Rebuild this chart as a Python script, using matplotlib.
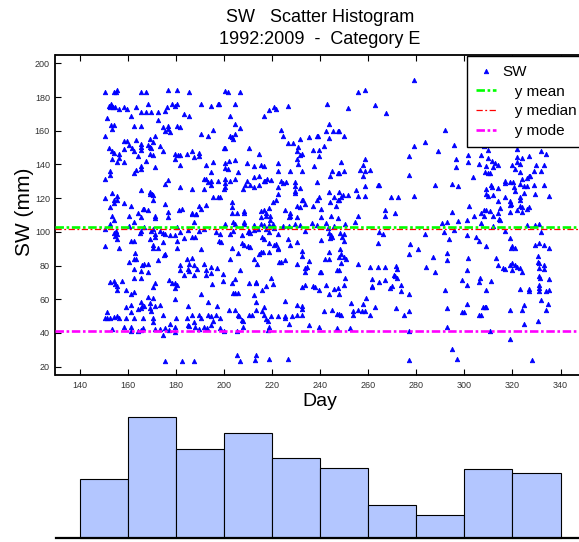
import matplotlib
matplotlib.use("Agg")
import matplotlib.pyplot as plt

plt.rcParams['font.family'] = ['Liberation Sans', 'DejaVu Sans']

# ---- data: (day, SW mm) observations, grouped by region of the plot ----
obs_early_high = [
    (150.4,183),(154.5,183),(155.1,183),(155.5,184),(165.5,183),(167.6,183),(176.6,184),(180.5,184),(185.5,183),
    (152.3,175),(153.1,176),(153.7,175),(152.7,174),(154.1,174),(154.8,174),(156.5,173),(158.6,174),(159.7,173),
    (163.4,174),(168.4,176),(178.4,176),(179.5,175),(180.5,176),(176.5,174),(175.5,172),(165.5,171),(167.6,171),
    (169.7,171),(172.6,171),(183.4,170),(185.5,169),(190.6,176),(194.7,175),(197.4,176),(161.3,169),(151.3,167.5),
    (172.6,166.5),(153.1,163.6),(154.4,163.2),(153.4,161.2),(162.5,162.8),(165.5,162.8),(174.5,162.4),(176.6,162.6),
    (176.8,161.2),(175.6,159.6),(177.6,159),(180.5,162.8),(181.6,162.4),(150.4,156.7),(190.5,158.3),(193.6,157.1),
    (195.5,160.4),
    (170.4,153.3),(169.5,155.3),(171.5,156.7),(158.4,154.1),(159.7,154.1),(163.4,154.7),(165.5,152.1),(165.5,150.2),
    (165.5,148.8),(168.4,151.7),(169.5,150.2),(169.8,149.8),(173.4,151.2),(160.6,151.4),(162,149.8),(162.6,148.2),
    (158.6,149.2),(152.3,149.8),(153.4,147.8),(154.5,146.8),(156.5,146.4),(164.5,145.2),(169.5,146.2),(170.5,145.4),
    (174.5,147.8),(179.7,146.2),(181,145.8),(181.9,145.4),(184.7,146.2),(186.8,147.8),(189.7,146.8),(189.5,144.8),
    (187.6,144.3),(179.5,143.5),(167.6,142.3),(153.4,143.5),(156.5,143.9),(158.6,141.5),(155.5,141.5),
    (181.6,139.9),(171.3,138.5),(165.5,138.9),(165.5,137.5),(163.4,136.6),(162.5,135),(152.7,136.4),(152.6,133.6),
    (150.4,131.4),(176.6,131),(175.6,128.5),(192.6,139.5),(195.5,141.5),(194.7,135.6),(191.6,131.4),(192.6,131.4),
    (193.6,129.5),(194.5,130),(194.7,127.7),(197.4,130.4),(191.6,125.5),(186.8,125.7),(181.6,126.7),(165.5,124.7),
    (169.5,123.5),(170.1,122.6),(169.5,122.2),(170.4,121.6),(170.5,119.2),(150.4,120.2),(153.4,122.8),(155.5,121.2),
    (154.5,118.8),(155.5,118.8),(154.5,117.2),(158.4,117.2),(161.3,115.3),(152.5,114.7),(166.2,113.3),(166.6,113.3),
    (168.3,112.9),(175.6,116.8),(176.6,111.9),(181.5,112.9),(182.6,113.3),(164.5,110.9),(189.7,115.3),(192.6,115.8),
    (195.5,120.8),(197.4,120.8),(190.6,113.3),(186.6,110.9),(188.4,110.7),
]
obs_early_low = [
    (153.4,109.3),(154.5,107),(160.4,109.7),(165.5,109),(171.3,109.7),(171.3,108),(176.6,109),(186.7,110.3),
    (188.6,110.3),(187.5,106),(162.5,105.8),(152.5,104.4),
    (150.4,101.9),(154.5,99.5),(155.1,100.5),(155.5,98.9),(160.4,103.4),(165.2,99.5),(165.5,100.5),(166.6,103),
    (169.7,100.5),(170.4,101.9),(171.3,98.5),(173.3,100.5),(174.6,99.5),(175.6,98.5),(177.6,97.9),(179.5,98.1),
    (180.5,103),(181.6,99.9),(185.3,100.9),(189.6,100.5),(191.7,101.9),(196.8,100.1),
    (154.8,97.5),(155.5,95.9),(161.3,94.6),(162.5,94.6),(169.4,95.9),(171.3,97.1),(170.5,92.2),(170.4,90.6),
    (172.6,90.6),(174.5,94.2),(180.5,94.6),(183.4,96.5),(186.7,97.1),(188.1,97.1),(150.4,91.6),(156.5,90.2),
    (180.5,90.2),(190.6,89.6),
    (163.1,87.7),(162.5,84.1),(163.4,84.1),(160.4,82.3),(172.6,83.3),(175.3,86.1),(175.6,86.7),(184.6,84.1),
    (186.7,84.7),(181.9,80.4),(185.6,81.2),(187.5,80.4),(191.7,81.2),(194.6,79.4),(197,78.4),(165.9,80.2),
    (167,81),(168.4,81.2),(162.5,77.8),(165.5,76.8),(168.4,76.2),(185.3,77.8),(185.6,76.8),(188.8,78.2),
    (192.5,77.2),(192.5,74.5),(181.6,77.4),(183.4,74.5),(187.5,74.5),(194.7,75.4),
    (165.5,72.3),(162.5,72.3),(152.5,70.3),(154.5,70.9),(154.8,68.9),(155.5,67.6),(155.5,65.6),(157.6,70.9),
    (171.3,69.9),(170.5,67.4),(177.4,71.5),(178.4,69.9),(179.5,69.9),(180.5,68.3),(179.5,66.4),(159.5,65.4),
    (161.5,63),(162.6,64.4),(194.9,69.3),(190.6,63),
    (168.4,61.6),(170.5,61),(179.6,60.1),(165.4,58.1),(169.5,57.7),(165.9,56.1),(166.6,55.7),(171.2,56.1),
    (173.3,56.5),(161.5,56.5),(159.5,55.5),(165.5,54.9),(164.5,54.2),(169.5,54.5),(169.7,53),(161.3,52.6),
    (151.4,52.6),(185.3,55.7),(193.5,58.5),(197.2,55.7),
    (150.4,48.6),(151.4,48.6),(152.7,48.6),(154.5,49.2),(155.5,50.2),(156.5,48.6),(159.5,48.8),(162.5,48.6),
    (166.3,48.6),(170.5,48.8),(174.5,50.6),(180.3,48.6),(184.8,48.6),(186.7,50.6),(189.6,50.6),(193.5,50.6),
    (194.6,50.2),(196.7,50.6),(190.6,48.6),(195.4,47.3),(187.4,46.7),(177.7,45.3),(185.3,44.7),
    (153.4,42.3),(158.4,43.3),(161.3,43.3),(166.3,42.9),(165.5,41.7),(164.3,41.3),(161.6,41.3),(171.5,42.3),
    (173.4,42.3),(175.5,42.7),(177.1,41.9),(179.5,43.3),(170.4,46.3),(185.6,44.3),(187.8,43.3),(189.6,42.3),
    (191.8,43.3),(193.2,42.7),(194.5,44.7),(174.5,38.8),(179.6,40.7),
    (175.5,23.6),(182.5,23.6),(187.5,23.6),
]
obs_mid_high = [
    (200.6,183.6),(201.7,183),(206.8,183),(197.8,175.7),(204.7,175.7),(220.7,173.9),(221.8,172.8),(218.9,172.2),
    (226.8,174.5),(242.7,175.7),(202.6,168.8),(216.8,168.6),(204.7,164.3),(206.8,161.5),(243.8,164.1),(223.9,160.3),
    (224.7,157),(202.6,157),(203.3,156.2),(204.7,158.2),(203.6,155.2),(235.6,156.2),(238.7,157),(239.1,157),
    (242.6,159.8),(245.3,159.8),(247.4,159.8),(243.8,155.6),(226.8,152.7),(228.8,152.7),(231.6,155.2),(230.7,150.1),
    (230.5,148.1),(231.8,145.8),(232.7,146.2),(236.9,148.5),(239.7,148.5),(239.7,145.2),(241.7,151.1),(199.9,149.7),
    (200.6,149.7),(210.5,149.9),(214.7,146.4),(222.6,140.8),(222.6,136.3),(216.8,139.3),(215.5,139.5),(212.6,139.3),
    (209.7,140.8),(204.7,142.6),(202,142.2),(200.6,140.8),(200.6,137.9),(201.7,137.5),(205.7,135.5),(227.6,135.9),
    (232.7,135.9),(237.6,139.3),(244.9,136.3),(244,133.3),(247.4,135.1),(230.5,143.2),(230.7,140.2),
    (212.6,132.6),(214.7,133.3),(209.7,130.4),(208.6,128),(207.9,125.5),(210.8,127.6),(212.6,126.4),(214.7,127.6),
    (217.3,130),(216.8,130.4),(217.9,131.2),(219.6,130.8),(223.7,130),(224.7,129),(225.7,129.4),(222.5,126.8),
    (229.7,129.8),(229.7,127.4),(231.6,126),(222.5,122.5),(221.8,118.8),(220.5,117.6),(218.9,114.2),(216.8,113.2),
    (215.5,112.3),(217.6,110.9),(225.5,113.2),(227.6,110.9),(229.5,124.5),(229.5,123.1),(230.4,115.2),(231.8,114.6),
    (232.5,118.8),(232.9,118.8),(233.8,116.8),(236.9,115.2),(238.9,119.1),(239.7,120.5),(240.6,113.8),(244,117.6),
    (245.6,120.9),(247.4,118.9),(246.7,115.6),(200.6,131.6),(200.6,129.2),(202.6,130),(204.7,131.4),(199.9,125.5),
    (200.6,126.8),(198.5,120.9),(203.3,118),(203.3,114.6),(203.3,111.3),(205.4,110.9),(208.2,112.3),(208.5,110.9),
    (238.8,129.4),(243.8,123.7),
]
obs_mid_low = [
    (215.4,109),(217.5,109.7),(219.3,109.7),(226.9,109),(227.7,109.7),(230.4,109),(240.6,109),(244.5,109.7),(247.4,108),
    (200.6,104.4),(203.6,105.8),(204.5,104.4),(208.5,105.8),(208.5,104.4),(212.4,103.8),(215.5,104.4),(216.8,103.8),
    (218.7,103.8),(219.3,107),(220.3,104.4),(220.8,102.4),(224.4,103.4),(226.9,103.4),(229.7,104.4),(231.8,103.8),
    (236.6,105.4),(238.7,103.8),(242.6,105),(245.6,103.4),
    (198.5,98.5),(202.6,98.5),(204,100.5),(207.5,97.9),(210,99.9),(210.5,100.5),(210.9,99.5),(212.4,101.1),
    (214.2,101.9),(215.8,97.1),(218.9,99.9),(217.5,101.9),(222.7,98.5),(226.8,95.5),(230.5,94),(233.8,100.5),
    (243.3,102.4),(243.8,99.1),(244.9,97.1),(244.5,97.9),(244,96.5),(240.6,95.2),
    (197.8,94.6),(198.8,94),(203.3,90.6),(205.8,87.7),(207.6,93.6),(208.3,92),(210,91.6),(210.7,91.2),(212.6,84.1),
    (213.7,80.8),(214.6,86.7),(215.4,88),(216.1,88),(216.8,95.5),(218.9,93.6),(218.9,88),(221,92.2),(221.8,92.6),
    (222.5,89.6),(222.6,90.6),(223,82.1),(223.9,82.1),(225.5,83.3),(227.6,92),(230.5,80.8),(232.7,88.6),
    (232.7,85.7),(235.5,82.7),(233.8,78.8),(234.5,79.4),(233.8,76.2),(239.8,76.2),(240.5,76.2),(241.9,83.7),
    (243.8,84.1),(243.8,88),(247,77.2),(199.6,74.8),(202.6,83.7),(206.8,77.2),
    (199.6,70.9),(203.3,69.5),(204.7,71.9),(203.6,63.4),(204.5,63.4),(205.7,63.4),(210.5,69.5),(213.5,70.3),
    (213.5,69.5),(219.6,72.3),(220.4,68.9),(215.7,65.4),(217.6,67.8),(212.6,62.6),(232.7,67),(233.8,68.3),
    (236.9,67.9),(237.7,67),(239.7,65.6),(242.6,68.3),(243.8,63),(245.6,66),(247.4,66.4),
    (225.5,59.1),(230.4,56.5),(232.7,55.7),(232.7,54.2),(202,53.6),(204.6,53.8),(213.5,58.1),(213.5,53.6),
    (216.8,55.5),(215.7,52.8),(216.8,50.6),(217.5,48.2),(218.2,46.9),(219.6,50.2),(222.6,50.2),(225.5,50.2),
    (225.5,48.6),(227.2,45.3),(228.4,50.2),(230.4,50.6),(232.7,50.6),(241.7,52.8),(244.9,53.6),(247,51.2),
    (205.7,50.6),(206.4,50.2),(210.3,50.6),(211.7,50.6),(207.8,47.3),(207.5,47.9),(198.6,48.6),
    (198.5,42.7),(199.9,41.3),(205.6,41.3),(207.9,43.3),(218.9,43.7),(218.3,41.9),(235.5,44.7),(239.7,43.7),(247.1,42.7),
    (205.6,26.9),(206.7,23.6),(213.5,26.9),(213,24),(218.9,24.6),(226.8,24.6),
]
obs_late_high = [
    (278.9,190.3),(255.6,182.8),(258.8,184),(251.8,173.4),(262.7,175.3),(267.6,170.8),(291.8,160.3),(247.7,159.9),
    (249.8,157.2),(279,151.1),(283.7,153.1),(288.9,148.1),(295.9,151.5),(276.8,144.8),(296.7,143.2),(248.8,141.4),
    (258.8,143.2),(257.7,139.8),(256.8,136.7),(258.8,135.9),(260.6,136.7),(249.8,136.3),(247.7,135.1),(296.7,138.5),
    (257.7,133),(276.8,133.5),(258.8,127.2),(264.1,127.6),(264.7,127.6),(254.8,125.1),(247.7,123.7),(249.6,121.7),
    (248.7,120.7),(251.8,122.1),(255.6,121.1),(258.8,121.1),(269.7,120.7),(272.6,120.7),(278.9,121.5),(287.6,127.6),
    (294.8,128.6),(297.3,127),(247.7,119.2),(266.8,113.2),(271,110.9),(294.8,111.7),
]
obs_late_low = [
    (255.6,109.7),(266.8,109.3),(254.6,105.8),(250.5,104.8),(290.8,105.4),(292.7,105.8),(297.3,106.4),(248.4,99.1),
    (249.8,98.5),(249.1,97.1),(249.8,94.6),(264.7,99.9),(266,98.5),(283.7,98.9),(291.6,100.1),(295.9,100.9),
    (293.8,95.7),(263.9,93.2),(277.6,92.6),(280.9,90),(276.8,86.7),(292.7,87.7),(292.7,83.1),(286.9,85.3),
    (248.5,89.6),(248.8,86.7),(247.7,85.3),(250,85.3),(250.7,83.7),(248.8,81.4),(255.6,81.2),(260.6,79),
    (263.9,79),(266.8,79),(271.7,79.8),(271.9,77.8),(283.9,79.4),(287.6,76.2),(247.7,77.2),(250.5,72.3),
    (249.8,68.5),(261.5,71.9),(264.7,70.3),(266.8,71.3),(270.8,74.3),(271.3,73.5),(271.9,72.3),(269.9,67.9),
    (268.9,66.4),(273.7,68.5),(273.7,64.6),(261.5,67.8),(261.7,67),(276.8,63),(291.8,65.4),(247.7,63),
    (258.9,61),(257.7,57.1),(262.7,55.5),(252.7,57.7),(253.9,53.2),(255.6,53.6),(257.5,53.2),(258.8,53.2),
    (253.9,50.6),(260.6,50.6),(271.7,54.5),(276.8,53.2),(274.9,50.6),(292.7,54.9),(248.8,50.6),(247.7,51.2),
    (252.5,42.7),(276.8,41.3),(292.7,43.3),(294.8,30.5),(296.9,24.6),(276.8,24),
]
obs_end = [
    (304.8,152.3),(308,150.7),(314.9,152.3),(323.9,153.7),(309.8,148.7),(307,145.8),(301.7,145.8),(309.8,143.8),
    (301.7,141.4),(305.9,140.5),(309,138.9),(311.7,141.8),(312.8,140.8),(313.9,139.9),(311.9,138.5),(321.8,149.3),
    (327,144.8),(323.9,143.8),(321.8,144.4),(321.8,141.2),(323,140.5),(319.8,139.9),(320.9,137.3),(323,135.5),
    (332,147.8),(333.9,146.4),(329.7,139.9),(333.1,139.9),(332,135.9),(329.1,135.9),(309.8,134.9),(310.8,134.9),
    (308.7,135.3),(303.8,132.6),(326.7,133.4),(327.4,133),(326,132),(317,130),(317,129),(319.1,129.4),
    (320.1,129.4),(323,128.4),(323.9,131.4),(324.6,127.4),(326,127.4),(329.1,128),(333.1,128),(311,127.6),
    (311.4,126.7),(313.9,126.1),(309,125.7),(320.5,126.7),(321.2,124.1),(325,123.1),(329.2,122.7),(309.1,122.7),
    (309.8,121.5),(311.9,121.7),(317,120.7),(313.9,118.6),(318.8,118.6),(319.5,116.8),(318.8,115.8),(323.2,120.7),
    (323,118.8),(335,121.1),(302,115.2),(308,112.9),(309,112.9),(310.8,112.3),(314.9,114.2),(313.9,110.9),
    (311.9,109.7),(308.1,109.3),(307,111.3),(314.9,107.3),(314.6,107.7),(319.1,111.9),(322,112.9),(323.9,111.7),
    (323,115.2),(323.9,114.8),(326,113.3),(327,114.8),(301.1,107.3),(304.1,109.7),(307,105.4),(317,100.4),
    (311.9,103.4),(326,103.8),(329.2,103.8),(331.1,104.4),(332,99.9),(304.8,97.1),(305.9,94.5),(309,91.6),
    (301.1,97.9),(319.1,96.1),(319.2,90.6),(319.8,91.6),(321.2,90.2),(329.2,92.4),(331,93.5),(333.1,92),
    (335,90.6),(330.8,85.6),(330.8,82.1),(331.1,81.3),(333.1,80.5),(331,78.8),(333.1,78.2),(331,73.8),
    (331.5,72.8),(335,71.9),(331,68.5),(331,66.9),(327,65.9),(327,64.8),(331,64.6),(333.9,65),(335,65.4),
    (323,66.3),(313.1,84.6),(313.9,80.5),(315.9,78.8),(317,78.2),(318.8,80.1),(319.8,81.3),(320.9,80.3),
    (321.8,79.4),(323,78.8),(323.9,76.2),(319.8,77.2),(301.7,84.6),(301.1,77.2),(299,71.5),(301.1,68.5),
    (306.7,72.8),(305.9,70.3),(311,70.9),(309,65.4),(331.8,59.6),(334.7,57.1),(333.9,53.3),(330.8,46.8),
    (324.8,56.5),(323.9,53.3),(318.8,53.3),(308.4,55.5),(309.1,55.3),(307.6,55.5),(301.1,57.3),(299,52.5),
    (299.8,52.5),(305.9,50.8),(307,50.8),(324.8,45.1),(318.8,36.4),(310.8,41.3),(328.1,24),
]

y_mean = 102.8
y_median = 101.4
y_mode = 41.0

hist_edges = [140, 160, 180, 200, 220, 240, 260, 280, 300, 320, 340]
hist_counts = [59, 121, 89, 105, 80, 70, 33, 23, 69, 65]

x_ticks = list(range(140, 341, 20))
y_ticks = list(range(20, 201, 20))

# ---- figure ----
W, H = 579, 542
fig = plt.figure(figsize=(W / 100, H / 100), dpi=100)

ax_l, ax_r, ax_t, ax_b = 55.5, 584.6, 55.0, 375.0
ax = fig.add_axes([ax_l / W, 1 - ax_b / H, (ax_r - ax_l) / W, (ax_b - ax_t) / H])

all_obs = (obs_early_high + obs_early_low + obs_mid_high + obs_mid_low
           + obs_late_high + obs_late_low + obs_end)
days = [p[0] for p in all_obs]
sws = [p[1] for p in all_obs]

h_sw, = ax.plot(days, sws, linestyle='none', marker='^', ms=3.2,
                color=(0, 0, 1), mec=(0, 0, 1), mew=0.6, label='SW', zorder=2)
h_mean = ax.axhline(y_mean, color=(0, 1, 0), lw=1.9,
                    linestyle=(0, (3.2, 1.0, 1.0, 1.0)), label='   y mean', zorder=3)
h_med = ax.axhline(y_median, color=(1, 0, 0), lw=0.9,
                   linestyle=(0, (5, 2, 1.5, 2)), label='   y median', zorder=3)
h_mode = ax.axhline(y_mode, color=(1, 0, 1), lw=1.9,
                    linestyle=(0, (3.2, 1.0, 1.0, 1.0)), label='   y mode', zorder=3)

ax.set_xlim(130, 350)
ax.set_ylim(15, 205)
ax.set_xticks(x_ticks)
ax.set_yticks(y_ticks)
ax.tick_params(direction='in', length=4, width=0.8, top=True, right=True,
               labelsize=6.5, labelcolor='#333333', pad=4)
for s in ax.spines.values():
    s.set_linewidth(1.3)

leg = ax.legend(handles=[h_sw, h_mean, h_med, h_mode],
                loc='upper left', bbox_to_anchor=(466.7 / W, 1 - 56 / H),
                bbox_transform=fig.transFigure, borderaxespad=0,
                frameon=True, fancybox=False, framealpha=1, edgecolor='black',
                fontsize=11, handlelength=1.31, handletextpad=0.4,
                borderpad=0.6, labelspacing=0.37, numpoints=1)
leg.get_frame().set_linewidth(1.0)

# titles / labels
fig.text(320 / W, 1 - 18 / H, 'SW   Scatter Histogram', ha='center', va='center', fontsize=13)
fig.text(320 / W, 1 - 40 / H, '1992:2009  -  Category E', ha='center', va='center', fontsize=13)
fig.text(24 / W, 1 - 212 / H, 'SW (mm)', rotation=90, ha='center', va='center', fontsize=15)
fig.text(320 / W, 1 - 402 / H, 'Day', ha='center', va='center', fontsize=14)

# ---- histogram ----
hb, ht = 538.0, 417.0
hax = fig.add_axes([ax_l / W, 1 - hb / H, (ax_r - ax_l) / W, (hb - ht) / H])
hax.bar(hist_edges[:-1], hist_counts, width=20, align='edge', color='#b3c6ff',
        edgecolor='black', linewidth=0.8, clip_on=False)
hax.set_xlim(130, 350)
hax.set_ylim(0, max(hist_counts))
for k in ('left', 'right', 'top'):
    hax.spines[k].set_visible(False)
hax.spines['bottom'].set_linewidth(1.6)
hax.set_xticks([])
hax.set_yticks([])
hax.patch.set_alpha(0)

fig.savefig('out.png', dpi=100)
